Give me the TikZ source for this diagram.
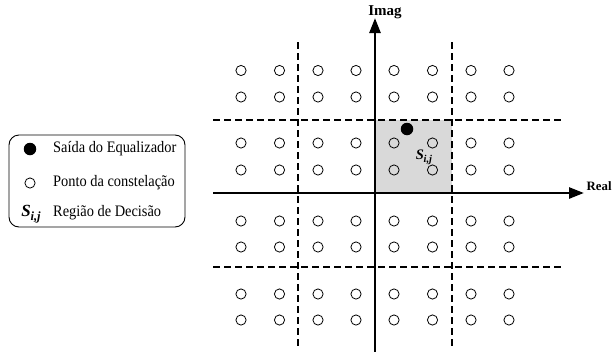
\documentclass[tikz,border=0pt]{standalone}
\usepackage{fontspec}
\usepackage{graphicx}
\setmainfont{Liberation Serif}
\usetikzlibrary{arrows.meta}

% S_{i,j} decision-region symbol at a given size
\newcommand{\regsym}[2]{{\fontsize{#1}{#1}\selectfont\bfseries\itshape S\kern-0.3pt\raisebox{-0.45ex}{\fontsize{#2}{#2}\selectfont i,j}}}

\begin{document}
\begin{tikzpicture}[x=1pt,y=-1pt,
  cpoint/.style={circle,draw,line width=0.8pt,minimum size=10.2pt,inner sep=0pt},
  eqpoint/.style={circle,fill=black,minimum size=12.5pt,inner sep=0pt},
  axisline/.style={line width=2.6pt,-{Triangle[length=15pt,width=11pt]}},
  boundary/.style={line width=1.8pt,dash pattern=on 7pt off 4pt},
  legtext/.style={inner sep=0pt,anchor=west,font=\fontsize{16}{18}\selectfont},
  axlabel/.style={inner sep=0pt,font=\fontsize{15}{16}\selectfont\bfseries},
]
\useasboundingbox (0,0) rectangle (613,351);
\clip (0,0) rectangle (613,351);

% shaded decision region
\fill[gray!30] (375,120) rectangle (452,193);

% decision boundaries
\coordinate (v1t) at (298,42);  \coordinate (v1b) at (298,347);
\coordinate (v2t) at (452,42);  \coordinate (v2b) at (452,347);
\coordinate (h1l) at (213,120); \coordinate (h1r) at (564,120);
\coordinate (h2l) at (213,267); \coordinate (h2r) at (564,267);
\draw[boundary] (v1t) -- (v1b);
\draw[boundary] (v2t) -- (v2b);
\draw[boundary] (h1l) -- (h1r);
\draw[boundary] (h2l) -- (h2r);

% axes
\coordinate (xs) at (213,193); \coordinate (xe) at (584,193);
\coordinate (ys) at (375,352); \coordinate (ye) at (375,18);
\draw[axisline] (xs) -- (xe);
\draw[axisline] (ys) -- (ye);
\node[axlabel] (imag) at (385,12) {Imag};
\node[axlabel,anchor=west,font=\fontsize{12.8}{14}\selectfont\bfseries] (real) at (586.5,186) {Real};

% constellation points
\foreach \x [count=\i] in {241,279.5,318,356,394,432.5,471,509}
  \foreach \y [count=\j] in {70.5,97,143,170,221,247,294,320}
    \node[cpoint] (p\i\j) at (\x,\y) {};

% equalizer output
\node[eqpoint] (eqout) at (407,129) {};
\node[inner sep=0pt] (sij) at (424,157) {\regsym{14.5}{10.5}};

% legend
\node[draw,line width=0.9pt,rounded corners=10pt,minimum width=176pt,minimum height=92pt,inner sep=0pt] (legend) at (97,181) {};
\node[eqpoint] (legeq) at (30,149) {};
\node[legtext] (legeqt) at (53,149) {\scalebox{0.9}[1]{Saída do Equalizador}};
\node[cpoint] (legpt) at (30,183) {};
\node[legtext] (legptt) at (53,183) {\scalebox{0.9}[1]{Ponto da constelação}};
\node[inner sep=0pt] (legs) at (31,214) {\regsym{17}{12.5}};
\node[legtext] (legst) at (53,213) {\scalebox{0.9}[1]{Região de Decisão}};
\end{tikzpicture}
\end{document}
